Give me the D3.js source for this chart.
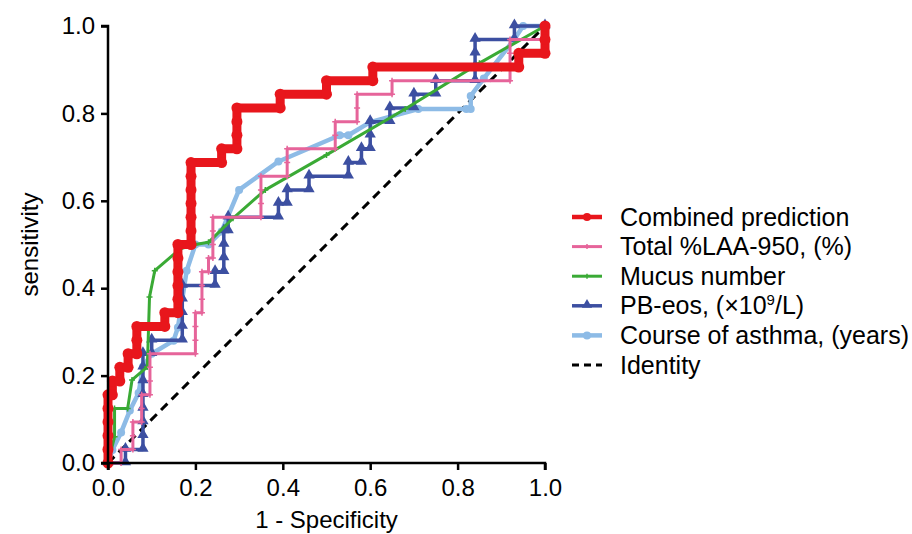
<!DOCTYPE html>
<html>
<head>
<meta charset="utf-8">
<script src="https://cdn.jsdelivr.net/npm/d3@7"></script>
<style>
  body { margin: 0; background: #fff; }
  svg { display: block; font-family: "Liberation Sans", Arial, sans-serif; }
</style>
</head>
<body>
<svg width="912" height="534"></svg>
<script>
// ROC points [1 - specificity, sensitivity]
const combined = [[0,0],[0,0.031],[0,0.0625],[0,0.094],[0,0.125],[0,0.156],[0.01,0.156],[0.01,0.1875],
  [0.027,0.1875],[0.027,0.219],[0.046,0.219],[0.046,0.25],[0.066,0.25],[0.066,0.281],[0.066,0.3125],
  [0.13,0.3125],[0.13,0.344],[0.16,0.344],[0.16,0.375],[0.16,0.406],[0.16,0.4375],[0.16,0.469],[0.16,0.5],
  [0.19,0.5],[0.19,0.531],[0.19,0.5625],[0.19,0.594],[0.19,0.625],[0.19,0.656],[0.19,0.6875],
  [0.26,0.6875],[0.26,0.719],[0.295,0.719],[0.295,0.75],[0.295,0.781],[0.295,0.8125],
  [0.394,0.8125],[0.394,0.844],[0.5,0.844],[0.5,0.875],[0.606,0.875],[0.606,0.906],
  [0.94,0.906],[0.94,0.9375],[1,0.9375],[1,0.969],[1,1]];

const totalLAA = [[0,0],[0.03,0],[0.03,0.031],[0.057,0.031],[0.057,0.0625],[0.057,0.094],[0.077,0.094],
  [0.077,0.125],[0.077,0.156],[0.096,0.156],[0.096,0.1875],[0.096,0.219],[0.096,0.25],[0.2,0.25],
  [0.2,0.281],[0.2,0.3125],[0.2,0.344],[0.215,0.344],[0.215,0.375],[0.215,0.406],[0.215,0.4375],
  [0.23,0.4375],[0.23,0.469],[0.24,0.469],[0.24,0.5],[0.24,0.531],[0.24,0.5625],[0.35,0.5625],
  [0.35,0.594],[0.35,0.625],[0.35,0.656],[0.41,0.656],[0.41,0.6875],[0.41,0.719],[0.52,0.719],
  [0.52,0.75],[0.52,0.781],[0.57,0.781],[0.57,0.8125],[0.57,0.844],[0.65,0.844],[0.65,0.875],
  [0.92,0.875],[0.92,0.906],[0.92,0.9375],[0.92,0.969],[1,0.969],[1,1]];

const mucus = [[0,0],[0.015,0.06],[0.015,0.125],[0.045,0.125],[0.055,0.19],[0.09,0.22],[0.095,0.38],
  [0.107,0.44],[0.165,0.49],[0.2,0.5],[0.23,0.505],[0.286,0.56],[0.36,0.625],[0.5,0.705],
  [0.68,0.81],[0.85,0.915],[1,1]];

const pbEos = [[0,0],[0.04,0],[0.04,0.031],[0.08,0.031],[0.08,0.0625],[0.08,0.094],[0.08,0.125],
  [0.08,0.156],[0.08,0.1875],[0.08,0.219],[0.08,0.25],[0.1,0.25],[0.1,0.281],[0.17,0.281],
  [0.17,0.3125],[0.17,0.344],[0.17,0.375],[0.17,0.406],[0.245,0.406],[0.245,0.4375],[0.265,0.4375],
  [0.265,0.469],[0.265,0.5],[0.265,0.531],[0.275,0.531],[0.275,0.5625],[0.39,0.5625],[0.39,0.594],
  [0.41,0.594],[0.41,0.625],[0.46,0.625],[0.46,0.656],[0.55,0.656],[0.55,0.6875],[0.58,0.6875],
  [0.58,0.719],[0.6,0.719],[0.6,0.75],[0.6,0.781],[0.645,0.781],[0.645,0.8125],[0.7,0.8125],
  [0.7,0.844],[0.75,0.844],[0.75,0.875],[0.84,0.875],[0.84,0.906],[0.84,0.9375],[0.84,0.969],
  [0.93,0.969],[0.93,1],[1,1]];

const course = [[0,0],[0.01,0.03],[0.03,0.07],[0.05,0.12],[0.07,0.16],[0.08,0.22],[0.1,0.25],
  [0.15,0.28],[0.16,0.31],[0.18,0.44],[0.2,0.5],[0.23,0.5],[0.26,0.53],[0.3,0.625],[0.39,0.69],
  [0.53,0.75],[0.55,0.75],[0.6,0.78],[0.71,0.81],[0.82,0.81],[0.83,0.81],[0.83,0.84],[0.86,0.88],
  [0.93,0.97],[0.95,1],[1,1]];

const identity = [[0,0],[1,1]];

const legendLabels = ['Combined prediction', 'Total %LAA-950, (%)', 'Mucus number',
  'PB-eos, (\u00d710', 'Course of asthma, (years)', 'Identity'];
const tickValues = [0, 0.2, 0.4, 0.6, 0.8, 1.0];

const svg = d3.select('svg');
const margin = {left: 108, top: 26};
const w = 437, h = 437;

const x = d3.scaleLinear().domain([0, 1]).range([margin.left, margin.left + w]);
const y = d3.scaleLinear().domain([0, 1]).range([margin.top + h, margin.top]);

const line = d3.line().x(d => x(d[0])).y(d => y(d[1]));

// series styles (bottom to top)
const series = [
  {data: identity, color: '#000', width: 3, dash: '9,6', marker: null},
  {data: course, color: '#8dbbe6', width: 4.5, marker: 'circle', size: 4},
  {data: pbEos, color: '#3c4fa1', width: 3.5, marker: 'triangle', size: 55},
  {data: mucus, color: '#3aaa35', width: 3, marker: 'tick', size: 3},
  {data: totalLAA, color: '#e6649a', width: 3, marker: 'plus', size: 3},
  {data: combined, color: '#e8161c', width: 9, marker: 'circle', size: 5.5}
];

const plot = svg.append('g');

series.forEach(s => {
  plot.append('path')
    .datum(s.data)
    .attr('d', line)
    .attr('fill', 'none')
    .attr('stroke', s.color)
    .attr('stroke-width', s.width)
    .attr('stroke-linejoin', 'round')
    .attr('stroke-linecap', s.dash ? 'butt' : 'round')
    .attr('stroke-dasharray', s.dash || null);
  drawMarkers(plot, s, s.data.map(d => [x(d[0]), y(d[1])]));
});

function drawMarkers(g, s, pts) {
  if (!s.marker) return;
  const mg = g.append('g');
  if (s.marker === 'circle') {
    mg.selectAll('circle').data(pts).enter().append('circle')
      .attr('cx', d => d[0]).attr('cy', d => d[1]).attr('r', s.size)
      .attr('fill', s.color);
  } else if (s.marker === 'triangle') {
    const sym = d3.symbol().type(d3.symbolTriangle).size(s.size);
    mg.selectAll('path').data(pts).enter().append('path')
      .attr('d', sym)
      .attr('transform', d => `translate(${d[0]},${d[1] - 1})`)
      .attr('fill', s.color);
  } else {
    mg.selectAll('path').data(pts).enter().append('path')
      .attr('d', d => `M${d[0] - s.size},${d[1]}H${d[0] + s.size}M${d[0]},${d[1] - s.size}V${d[1] + s.size}`)
      .attr('stroke', s.color).attr('stroke-width', 1.5);
  }
}

// axes
const xAxis = svg.append('g')
  .attr('transform', `translate(0,${margin.top + h})`)
  .call(d3.axisBottom(x).tickValues(tickValues).tickFormat(d3.format('.1f')).tickSize(7).tickPadding(9));
const yAxis = svg.append('g')
  .attr('transform', `translate(${margin.left},0)`)
  .call(d3.axisLeft(y).tickValues(tickValues).tickFormat(d3.format('.1f')).tickSize(7).tickPadding(6));

[xAxis, yAxis].forEach(a => {
  a.select('.domain').attr('stroke', '#000').attr('stroke-width', 2.5);
  a.selectAll('.tick line').attr('stroke', '#000').attr('stroke-width', 2.5);
  a.selectAll('.tick text').attr('fill', '#000').style('font-size', '24px');
});
xAxis.select('.domain').attr('d', `M${x(0)},7V0H${x(1)}V7`);
yAxis.select('.domain').attr('d', `M-7,${y(1)}H0V${y(0)}H-7`);

svg.append('text')
  .text('1 - Specificity')
  .attr('x', x(0.5)).attr('y', 528)
  .attr('text-anchor', 'middle')
  .style('font-size', '24px');

svg.append('text')
  .text('sensitivity')
  .attr('transform', `translate(38,${y(0.5)}) rotate(-90)`)
  .attr('text-anchor', 'middle')
  .style('font-size', '24px');

// legend
const legendSeries = [series[5], series[4], series[3], series[2], series[1], series[0]];
const legend = svg.append('g');
legendSeries.forEach((s, i) => {
  const ly = 217 + i * 29.6;
  legend.append('line')
    .attr('x1', 572).attr('x2', 602).attr('y1', ly).attr('y2', ly)
    .attr('stroke', s.color)
    .attr('stroke-width', s.dash ? 3 : Math.min(s.width, 4.5))
    .attr('stroke-dasharray', s.dash ? '7,5' : null);
  drawMarkers(legend, Object.assign({}, s, {size: s.marker === 'triangle' ? 45 : (s.marker === 'circle' ? 4 : 2.5)}), [[587, ly]]);
  const t = legend.append('text')
    .attr('x', 620).attr('y', ly + 8.5)
    .style('font-size', '25px')
    .text(legendLabels[i]);
  if (i === 3) {
    t.append('tspan').text('9').attr('dy', -9).style('font-size', '15px');
    t.append('tspan').text('/L)').attr('dy', 9);
  }
});
</script>
</body>
</html>
